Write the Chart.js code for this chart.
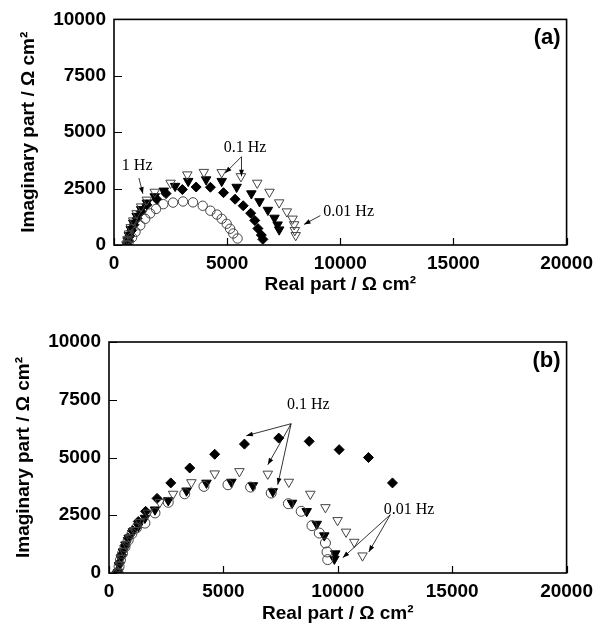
<!DOCTYPE html>
<html>
<head>
<meta charset="utf-8">
<script src="https://cdn.jsdelivr.net/npm/chart.js@4.4.0/dist/chart.umd.min.js"></script>
<style>
  body { margin: 0; background: #fff; }
  canvas { position: absolute; left: 0; }
  #chartA { top: 0; }
  #chartB { top: 305px; }
</style>
</head>
<body>
<canvas id="chartA" width="600" height="305"></canvas>
<canvas id="chartB" width="600" height="330"></canvas>
<script>
// axis ticks
const xTicks = [0, 5000, 10000, 15000, 20000];
const yTicks = [0, 2500, 5000, 7500, 10000];

// panel (a): [real, imaginary]
const aCircle = [[580,0],[650,150],[800,330],[950,580],[1160,870],[1380,1160],[1600,1400],[1860,1600],[2180,1810],[2610,1880],[3050,1930],[3490,1890],[3920,1740],[4260,1520],[4550,1350],[4760,1160],[4980,940],[5130,720],[5270,510],[5460,290]];
const aDiamond = [[600,0],[640,180],[700,400],[780,650],[880,900],[1020,1180],[1200,1480],[1450,1780],[1890,2030],[2300,2280],[3020,2460],[3630,2570],[4260,2560],[4840,2320],[5350,2030],[5710,1740],[6040,1410],[6220,1090],[6360,730],[6510,440],[6580,250]];
const aTriFill = [[560,0],[600,200],[660,430],[740,700],[850,980],[1000,1280],[1200,1580],[1450,1870],[1800,2150],[2200,2400],[2700,2610],[3280,2830],[4070,2900],[4760,2830],[5420,2570],[6070,2280],[6430,1930],[6800,1550],[7090,1200],[7230,900],[7300,680]];
const aTriOpen = [[560,50],[600,250],[660,500],[740,780],[850,1080],[1000,1400],[1200,1700],[1450,2000],[1800,2350],[2500,2750],[3240,3120],[3970,3230],[4760,3220],[5610,3040],[6330,2750],[6870,2350],[7300,1880],[7640,1480],[7890,1160],[7960,910],[7990,650],[8030,430]];

// panel (b)
const bCircle = [[400,0],[440,280],[500,560],[590,850],[700,1130],[840,1420],[1000,1700],[1200,1950],[1570,2160],[2010,2600],[2590,3060],[3310,3430],[4150,3750],[5200,3820],[6190,3720],[7090,3460],[7840,3000],[8400,2670],[8870,2050],[9190,1730],[9460,1300],[9530,910],[9560,580]];
const bDiamond = [[360,70],[450,430],[550,790],[700,1180],[840,1520],[1030,1840],[1280,2230],[1600,2670],[2100,3230],[2700,3900],[3530,4545],[4620,5140],[5920,5580],[7420,5840],[8750,5700],[10060,5340],[11340,5000],[12390,3900]];
const bTriFill = [[400,30],[450,330],[520,630],[610,920],[720,1220],[860,1500],[1050,1800],[1280,2020],[1570,2380],[2010,2740],[2590,3140],[3390,3560],[4260,3900],[5350,3940],[6290,3790],[7160,3530],[8000,3030],[8640,2670],[9080,2120],[9410,1620],[9890,840],[9850,610]];
const bTriOpen = [[420,50],[470,350],[540,650],[640,950],[760,1250],[900,1550],[1100,1850],[1350,2200],[1700,2600],[2220,3060],[2800,3420],[3600,3920],[4620,4300],[5700,4400],[6940,4290],[7860,3940],[8800,3420],[9460,2840],[9990,2280],[10360,1780],[10720,1340],[11080,750]];

// frequency notes (text position + arrows, in data units)
const aNotes = [
  { text: '1 Hz', at: [1024, 3522], arrows: [[1102, 2970, 1277, 2274]] },
  { text: '0.1 Hz', at: [5795, 4305], arrows: [[5634, 3913, 4910, 3187], [5634, 3913, 5634, 3044]] },
  { text: '0.01 Hz', at: [10370, 1491], arrows: [[9119, 1304, 8396, 913]] }
];
const bNotes = [
  { text: '0.1 Hz', at: [8714, 7286], arrows: [[7960, 6463, 6000, 5944], [7960, 6463, 6941, 4688], [7960, 6463, 7376, 3823]] },
  { text: '0.01 Hz', at: [13114, 2740], arrows: [[12295, 2524, 10217, 662], [12295, 2524, 11354, 909]] }
];

Chart.defaults.color = '#000';
Chart.defaults.font.family = "'Liberation Sans', Arial, sans-serif";

const toXY = arr => arr.map(p => ({ x: p[0], y: p[1] }));

const framePlugin = {
  id: 'frame',
  afterDatasetsDraw(chart, args, opts) {
    const { ctx, chartArea: a, scales: { x, y } } = chart;
    ctx.save();
    ctx.strokeStyle = '#000';
    ctx.lineWidth = 1.2;
    ctx.beginPath();
    xTicks.forEach(v => {
      const px = Math.round(x.getPixelForValue(v)) + 0.5;
      ctx.moveTo(px, a.bottom); ctx.lineTo(px, a.bottom - 7);
    });
    yTicks.forEach(v => {
      const py = Math.round(y.getPixelForValue(v)) + 0.5;
      ctx.moveTo(a.left, py); ctx.lineTo(a.left + 8, py);
    });
    ctx.stroke();
    ctx.lineWidth = 1.6;
    ctx.strokeRect(a.left, a.top, a.width, a.height);

    // notes with arrows
    ctx.lineWidth = 0.8;
    ctx.fillStyle = '#000';
    ctx.font = "16px 'Liberation Serif', 'Times New Roman', serif";
    ctx.textAlign = 'center';
    ctx.textBaseline = 'middle';
    opts.notes.forEach(n => {
      ctx.fillText(n.text, x.getPixelForValue(n.at[0]), y.getPixelForValue(n.at[1]));
      n.arrows.forEach(r => {
        const x0 = x.getPixelForValue(r[0]), y0 = y.getPixelForValue(r[1]);
        const x1 = x.getPixelForValue(r[2]), y1 = y.getPixelForValue(r[3]);
        const ang = Math.atan2(y1 - y0, x1 - x0);
        ctx.beginPath();
        ctx.moveTo(x0, y0); ctx.lineTo(x1, y1);
        ctx.stroke();
        ctx.beginPath();
        ctx.moveTo(x1, y1);
        ctx.lineTo(x1 - 7 * Math.cos(ang - 0.35), y1 - 7 * Math.sin(ang - 0.35));
        ctx.lineTo(x1 - 7 * Math.cos(ang + 0.35), y1 - 7 * Math.sin(ang + 0.35));
        ctx.closePath();
        ctx.fill();
      });
    });

    // panel letter
    ctx.font = "bold 22px 'Liberation Sans', Arial, sans-serif";
    ctx.textAlign = 'right';
    ctx.fillText(opts.letter, a.right - 6, a.top + 19);
    ctx.restore();
  }
};

function makeChart(id, sets, notes, letter, box) {
  const tickFont = { size: 19, weight: 'bold' };
  const titleFont = { size: 19, weight: 'bold' };
  return new Chart(document.getElementById(id), {
    type: 'scatter',
    data: {
      datasets: [
        { data: toXY(sets.circle), pointStyle: 'circle', pointRadius: box.circleR, pointBorderColor: '#444', pointBackgroundColor: 'rgba(0,0,0,0)', pointBorderWidth: 1 },
        { data: toXY(sets.triOpen), pointStyle: 'triangle', pointRotation: 180, pointRadius: 5.5, pointBorderColor: '#444', pointBackgroundColor: 'rgba(0,0,0,0)', pointBorderWidth: 1 },
        { data: toXY(sets.triFill), pointStyle: 'triangle', pointRotation: 180, pointRadius: 5.5, pointBorderColor: '#000', pointBackgroundColor: '#000', pointBorderWidth: 1 },
        { data: toXY(sets.diamond), pointStyle: 'rectRot', pointRadius: 5, pointBorderColor: '#000', pointBackgroundColor: '#000', pointBorderWidth: 1 }
      ]
    },
    options: {
      responsive: false,
      animation: false,
      layout: { padding: { top: box.top, right: box.right, left: 0, bottom: 0 } },
      plugins: {
        legend: { display: false },
        tooltip: { enabled: false },
        frame: { notes: notes, letter: letter }
      },
      scales: {
        x: {
          type: 'linear', min: 0, max: 20000,
          grid: { display: false, drawTicks: false },
          border: { display: false },
          afterBuildTicks: s => { s.ticks = xTicks.map(v => ({ value: v })); },
          afterFit: s => { s.height = box.xh; },
          ticks: { font: tickFont, padding: 7, maxRotation: 0, autoSkip: false, callback: v => String(v) },
          title: { display: true, text: 'Real part / Ω cm²', font: titleFont, padding: { top: 0, bottom: box.xtp } }
        },
        y: {
          type: 'linear', min: 0, max: 10000,
          grid: { display: false, drawTicks: false },
          border: { display: false },
          afterBuildTicks: s => { s.ticks = yTicks.map(v => ({ value: v })); },
          afterFit: s => { s.width = box.yw; },
          ticks: { font: tickFont, padding: 8, autoSkip: false, callback: v => String(v) },
          title: { display: true, text: 'Imaginary part / Ω cm²', font: titleFont, padding: { top: box.ytp, bottom: 0 } }
        }
      }
    },
    plugins: [framePlugin]
  });
}

makeChart('chartA', { circle: aCircle, diamond: aDiamond, triFill: aTriFill, triOpen: aTriOpen }, aNotes, '(a)',
  { top: 15, right: 27, yw: 114, xh: 60, xtp: 9, ytp: 17, circleR: 4.7 });
makeChart('chartB', { circle: bCircle, diamond: bDiamond, triFill: bTriFill, triOpen: bTriOpen }, bNotes, '(b)',
  { top: 37, right: 32, yw: 109, xh: 62, xtp: 10, ytp: 12, circleR: 5 });
</script>
</body>
</html>
